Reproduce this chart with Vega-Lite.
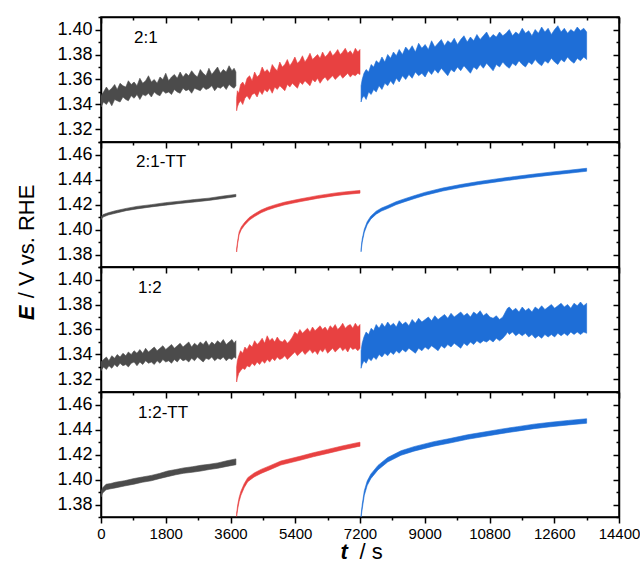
{
  "$schema": "https://vega.github.io/schema/vega-lite/v6.json",
  "padding": {"left": 14, "top": 7, "right": 0, "bottom": 5},
  "spacing": 0,
  "bounds": "flush",
  "config": {
    "view": {"stroke": "black", "strokeWidth": 1.5},
    "axis": {"domainColor": "black", "domainWidth": 1.5, "tickColor": "black", "tickWidth": 1.5, "labelColor": "black", "labelFont": "Liberation Sans", "titleFont": "Liberation Sans", "titleColor": "black", "grid": false, "labelOverlap": false, "labelFlush": false},
    "text": {"font": "Liberation Sans"}
  },
  "datasets": {
    "p1": [
      {"s":"a","t":0,"lo":1.338,"hi":1.347},{"s":"a","t":70,"lo":1.342,"hi":1.350},{"s":"a","t":150,"lo":1.340,"hi":1.354},{"s":"a","t":220,"lo":1.343,"hi":1.351},{"s":"a","t":300,"lo":1.339,"hi":1.353},{"s":"a","t":380,"lo":1.344,"hi":1.356},{"s":"a","t":450,"lo":1.343,"hi":1.352},{"s":"a","t":530,"lo":1.342,"hi":1.357},{"s":"a","t":610,"lo":1.346,"hi":1.355},{"s":"a","t":690,"lo":1.344,"hi":1.354},{"s":"a","t":760,"lo":1.343,"hi":1.359},{"s":"a","t":840,"lo":1.347,"hi":1.356},{"s":"a","t":920,"lo":1.345,"hi":1.358},{"s":"a","t":1000,"lo":1.348,"hi":1.355},{"s":"a","t":1080,"lo":1.344,"hi":1.361},{"s":"a","t":1160,"lo":1.348,"hi":1.357},{"s":"a","t":1240,"lo":1.347,"hi":1.359},{"s":"a","t":1320,"lo":1.349,"hi":1.363},{"s":"a","t":1400,"lo":1.346,"hi":1.358},{"s":"a","t":1480,"lo":1.350,"hi":1.360},{"s":"a","t":1560,"lo":1.348,"hi":1.357},{"s":"a","t":1640,"lo":1.347,"hi":1.362},{"s":"a","t":1720,"lo":1.351,"hi":1.360},{"s":"a","t":1800,"lo":1.349,"hi":1.365},{"s":"a","t":1880,"lo":1.350,"hi":1.359},{"s":"a","t":1960,"lo":1.348,"hi":1.362},{"s":"a","t":2040,"lo":1.352,"hi":1.364},{"s":"a","t":2120,"lo":1.350,"hi":1.361},{"s":"a","t":2200,"lo":1.349,"hi":1.366},{"s":"a","t":2280,"lo":1.353,"hi":1.362},{"s":"a","t":2360,"lo":1.351,"hi":1.365},{"s":"a","t":2440,"lo":1.352,"hi":1.363},{"s":"a","t":2520,"lo":1.349,"hi":1.367},{"s":"a","t":2600,"lo":1.353,"hi":1.364},{"s":"a","t":2680,"lo":1.352,"hi":1.362},{"s":"a","t":2760,"lo":1.351,"hi":1.368},{"s":"a","t":2840,"lo":1.354,"hi":1.365},{"s":"a","t":2920,"lo":1.352,"hi":1.363},{"s":"a","t":3000,"lo":1.353,"hi":1.369},{"s":"a","t":3080,"lo":1.355,"hi":1.364},{"s":"a","t":3160,"lo":1.351,"hi":1.367},{"s":"a","t":3240,"lo":1.354,"hi":1.370},{"s":"a","t":3320,"lo":1.353,"hi":1.365},{"s":"a","t":3400,"lo":1.355,"hi":1.368},{"s":"a","t":3480,"lo":1.352,"hi":1.366},{"s":"a","t":3560,"lo":1.356,"hi":1.371},{"s":"a","t":3640,"lo":1.354,"hi":1.367},{"s":"a","t":3700,"lo":1.353,"hi":1.369},{"s":"a","t":3750,"lo":1.355,"hi":1.366},
      {"s":"b","t":3770,"lo":1.335,"hi":1.345},{"s":"b","t":3790,"lo":1.338,"hi":1.351},{"s":"b","t":3830,"lo":1.341,"hi":1.349},{"s":"b","t":3880,"lo":1.343,"hi":1.356},{"s":"b","t":3940,"lo":1.340,"hi":1.358},{"s":"b","t":4000,"lo":1.345,"hi":1.355},{"s":"b","t":4060,"lo":1.347,"hi":1.361},{"s":"b","t":4130,"lo":1.344,"hi":1.363},{"s":"b","t":4200,"lo":1.348,"hi":1.359},{"s":"b","t":4270,"lo":1.349,"hi":1.366},{"s":"b","t":4340,"lo":1.346,"hi":1.362},{"s":"b","t":4410,"lo":1.351,"hi":1.364},{"s":"b","t":4480,"lo":1.348,"hi":1.370},{"s":"b","t":4550,"lo":1.352,"hi":1.366},{"s":"b","t":4620,"lo":1.350,"hi":1.368},{"s":"b","t":4690,"lo":1.353,"hi":1.365},{"s":"b","t":4760,"lo":1.349,"hi":1.372},{"s":"b","t":4830,"lo":1.354,"hi":1.369},{"s":"b","t":4900,"lo":1.352,"hi":1.367},{"s":"b","t":4970,"lo":1.355,"hi":1.374},{"s":"b","t":5040,"lo":1.353,"hi":1.370},{"s":"b","t":5110,"lo":1.351,"hi":1.372},{"s":"b","t":5180,"lo":1.356,"hi":1.376},{"s":"b","t":5250,"lo":1.354,"hi":1.371},{"s":"b","t":5320,"lo":1.357,"hi":1.374},{"s":"b","t":5390,"lo":1.355,"hi":1.378},{"s":"b","t":5460,"lo":1.353,"hi":1.373},{"s":"b","t":5530,"lo":1.358,"hi":1.375},{"s":"b","t":5600,"lo":1.356,"hi":1.379},{"s":"b","t":5670,"lo":1.359,"hi":1.374},{"s":"b","t":5740,"lo":1.357,"hi":1.377},{"s":"b","t":5810,"lo":1.355,"hi":1.381},{"s":"b","t":5880,"lo":1.360,"hi":1.376},{"s":"b","t":5950,"lo":1.358,"hi":1.378},{"s":"b","t":6020,"lo":1.361,"hi":1.380},{"s":"b","t":6090,"lo":1.357,"hi":1.377},{"s":"b","t":6160,"lo":1.360,"hi":1.382},{"s":"b","t":6230,"lo":1.362,"hi":1.378},{"s":"b","t":6300,"lo":1.359,"hi":1.380},{"s":"b","t":6370,"lo":1.361,"hi":1.383},{"s":"b","t":6440,"lo":1.363,"hi":1.379},{"s":"b","t":6510,"lo":1.360,"hi":1.381},{"s":"b","t":6580,"lo":1.362,"hi":1.384},{"s":"b","t":6650,"lo":1.364,"hi":1.380},{"s":"b","t":6720,"lo":1.361,"hi":1.382},{"s":"b","t":6790,"lo":1.363,"hi":1.385},{"s":"b","t":6860,"lo":1.365,"hi":1.381},{"s":"b","t":6930,"lo":1.362,"hi":1.383},{"s":"b","t":7000,"lo":1.364,"hi":1.380},{"s":"b","t":7070,"lo":1.363,"hi":1.385},{"s":"b","t":7140,"lo":1.365,"hi":1.382},{"s":"b","t":7200,"lo":1.364,"hi":1.384},
      {"s":"c","t":7230,"lo":1.342,"hi":1.355},{"s":"c","t":7260,"lo":1.345,"hi":1.360},{"s":"c","t":7310,"lo":1.347,"hi":1.365},{"s":"c","t":7370,"lo":1.344,"hi":1.368},{"s":"c","t":7440,"lo":1.350,"hi":1.366},{"s":"c","t":7510,"lo":1.348,"hi":1.372},{"s":"c","t":7580,"lo":1.352,"hi":1.370},{"s":"c","t":7650,"lo":1.350,"hi":1.375},{"s":"c","t":7730,"lo":1.355,"hi":1.373},{"s":"c","t":7810,"lo":1.352,"hi":1.378},{"s":"c","t":7890,"lo":1.357,"hi":1.374},{"s":"c","t":7970,"lo":1.355,"hi":1.380},{"s":"c","t":8050,"lo":1.359,"hi":1.377},{"s":"c","t":8130,"lo":1.356,"hi":1.382},{"s":"c","t":8210,"lo":1.361,"hi":1.379},{"s":"c","t":8290,"lo":1.358,"hi":1.384},{"s":"c","t":8380,"lo":1.363,"hi":1.380},{"s":"c","t":8470,"lo":1.360,"hi":1.386},{"s":"c","t":8560,"lo":1.364,"hi":1.383},{"s":"c","t":8650,"lo":1.361,"hi":1.387},{"s":"c","t":8740,"lo":1.366,"hi":1.382},{"s":"c","t":8830,"lo":1.363,"hi":1.389},{"s":"c","t":8920,"lo":1.365,"hi":1.385},{"s":"c","t":9010,"lo":1.362,"hi":1.388},{"s":"c","t":9100,"lo":1.367,"hi":1.384},{"s":"c","t":9190,"lo":1.364,"hi":1.391},{"s":"c","t":9280,"lo":1.368,"hi":1.386},{"s":"c","t":9370,"lo":1.365,"hi":1.389},{"s":"c","t":9460,"lo":1.369,"hi":1.392},{"s":"c","t":9550,"lo":1.366,"hi":1.387},{"s":"c","t":9640,"lo":1.363,"hi":1.391},{"s":"c","t":9730,"lo":1.368,"hi":1.389},{"s":"c","t":9820,"lo":1.366,"hi":1.393},{"s":"c","t":9910,"lo":1.370,"hi":1.388},{"s":"c","t":10000,"lo":1.367,"hi":1.392},{"s":"c","t":10090,"lo":1.371,"hi":1.395},{"s":"c","t":10180,"lo":1.368,"hi":1.390},{"s":"c","t":10270,"lo":1.365,"hi":1.394},{"s":"c","t":10360,"lo":1.370,"hi":1.391},{"s":"c","t":10450,"lo":1.368,"hi":1.396},{"s":"c","t":10540,"lo":1.372,"hi":1.392},{"s":"c","t":10630,"lo":1.369,"hi":1.395},{"s":"c","t":10720,"lo":1.373,"hi":1.398},{"s":"c","t":10810,"lo":1.370,"hi":1.393},{"s":"c","t":10900,"lo":1.367,"hi":1.396},{"s":"c","t":10990,"lo":1.372,"hi":1.394},{"s":"c","t":11080,"lo":1.370,"hi":1.398},{"s":"c","t":11170,"lo":1.374,"hi":1.395},{"s":"c","t":11260,"lo":1.371,"hi":1.397},{"s":"c","t":11350,"lo":1.369,"hi":1.400},{"s":"c","t":11440,"lo":1.373,"hi":1.395},{"s":"c","t":11530,"lo":1.371,"hi":1.398},{"s":"c","t":11620,"lo":1.375,"hi":1.396},{"s":"c","t":11710,"lo":1.372,"hi":1.401},{"s":"c","t":11800,"lo":1.370,"hi":1.397},{"s":"c","t":11890,"lo":1.374,"hi":1.399},{"s":"c","t":11980,"lo":1.372,"hi":1.395},{"s":"c","t":12070,"lo":1.376,"hi":1.400},{"s":"c","t":12160,"lo":1.373,"hi":1.397},{"s":"c","t":12250,"lo":1.371,"hi":1.402},{"s":"c","t":12340,"lo":1.375,"hi":1.398},{"s":"c","t":12430,"lo":1.373,"hi":1.401},{"s":"c","t":12520,"lo":1.377,"hi":1.396},{"s":"c","t":12610,"lo":1.374,"hi":1.400},{"s":"c","t":12700,"lo":1.372,"hi":1.403},{"s":"c","t":12790,"lo":1.376,"hi":1.398},{"s":"c","t":12880,"lo":1.374,"hi":1.401},{"s":"c","t":12970,"lo":1.378,"hi":1.397},{"s":"c","t":13060,"lo":1.375,"hi":1.400},{"s":"c","t":13150,"lo":1.373,"hi":1.398},{"s":"c","t":13240,"lo":1.377,"hi":1.402},{"s":"c","t":13330,"lo":1.375,"hi":1.399},{"s":"c","t":13420,"lo":1.378,"hi":1.401},{"s":"c","t":13500,"lo":1.376,"hi":1.398}
    ],
    "p2": [
      {"s":"a","t":0,"lo":1.4080,"hi":1.4100},{"s":"a","t":60,"lo":1.4100,"hi":1.4120},{"s":"a","t":200,"lo":1.4116,"hi":1.4134},{"s":"a","t":400,"lo":1.4130,"hi":1.4150},{"s":"a","t":700,"lo":1.4151,"hi":1.4169},{"s":"a","t":1000,"lo":1.4165,"hi":1.4185},{"s":"a","t":1400,"lo":1.4181,"hi":1.4199},{"s":"a","t":1800,"lo":1.4195,"hi":1.4215},{"s":"a","t":2200,"lo":1.4209,"hi":1.4227},{"s":"a","t":2600,"lo":1.4220,"hi":1.4240},{"s":"a","t":3000,"lo":1.4233,"hi":1.4251},{"s":"a","t":3400,"lo":1.4248,"hi":1.4268},{"s":"a","t":3750,"lo":1.4263,"hi":1.4281},
      {"s":"b","t":3770,"lo":1.3820,"hi":1.3845},{"s":"b","t":3800,"lo":1.3889,"hi":1.3911},{"s":"b","t":3840,"lo":1.3959,"hi":1.3981},{"s":"b","t":3900,"lo":1.3999,"hi":1.4021},{"s":"b","t":3990,"lo":1.4034,"hi":1.4056},{"s":"b","t":4120,"lo":1.4074,"hi":1.4096},{"s":"b","t":4260,"lo":1.4102,"hi":1.4124},{"s":"b","t":4450,"lo":1.4134,"hi":1.4156},{"s":"b","t":4630,"lo":1.4156,"hi":1.4178},{"s":"b","t":4850,"lo":1.4177,"hi":1.4199},{"s":"b","t":5090,"lo":1.4196,"hi":1.4218},{"s":"b","t":5320,"lo":1.4210,"hi":1.4232},{"s":"b","t":5560,"lo":1.4224,"hi":1.4246},{"s":"b","t":5800,"lo":1.4237,"hi":1.4259},{"s":"b","t":6020,"lo":1.4249,"hi":1.4271},{"s":"b","t":6250,"lo":1.4259,"hi":1.4281},{"s":"b","t":6480,"lo":1.4269,"hi":1.4291},{"s":"b","t":6700,"lo":1.4277,"hi":1.4299},{"s":"b","t":6950,"lo":1.4284,"hi":1.4306},{"s":"b","t":7200,"lo":1.4291,"hi":1.4313},
      {"s":"c","t":7230,"lo":1.3822,"hi":1.3846},{"s":"c","t":7260,"lo":1.3898,"hi":1.3922},{"s":"c","t":7320,"lo":1.3978,"hi":1.4002},{"s":"c","t":7400,"lo":1.4038,"hi":1.4062},{"s":"c","t":7500,"lo":1.4083,"hi":1.4107},{"s":"c","t":7650,"lo":1.4123,"hi":1.4147},{"s":"c","t":7800,"lo":1.4148,"hi":1.4172},{"s":"c","t":7970,"lo":1.4168,"hi":1.4192},{"s":"c","t":8200,"lo":1.4198,"hi":1.4222},{"s":"c","t":8450,"lo":1.4223,"hi":1.4247},{"s":"c","t":8700,"lo":1.4246,"hi":1.4270},{"s":"c","t":9000,"lo":1.4273,"hi":1.4297},{"s":"c","t":9500,"lo":1.4308,"hi":1.4332},{"s":"c","t":10000,"lo":1.4336,"hi":1.4360},{"s":"c","t":10500,"lo":1.4360,"hi":1.4384},{"s":"c","t":11000,"lo":1.4381,"hi":1.4405},{"s":"c","t":11500,"lo":1.4400,"hi":1.4424},{"s":"c","t":12000,"lo":1.4418,"hi":1.4442},{"s":"c","t":12500,"lo":1.4435,"hi":1.4459},{"s":"c","t":13000,"lo":1.4450,"hi":1.4474},{"s":"c","t":13500,"lo":1.4466,"hi":1.4490}
    ],
    "p3": [
      {"s":"a","t":0,"lo":1.327,"hi":1.334},{"s":"a","t":70,"lo":1.330,"hi":1.336},{"s":"a","t":150,"lo":1.328,"hi":1.338},{"s":"a","t":220,"lo":1.331,"hi":1.335},{"s":"a","t":300,"lo":1.329,"hi":1.339},{"s":"a","t":380,"lo":1.332,"hi":1.337},{"s":"a","t":450,"lo":1.330,"hi":1.340},{"s":"a","t":530,"lo":1.333,"hi":1.338},{"s":"a","t":610,"lo":1.331,"hi":1.341},{"s":"a","t":690,"lo":1.332,"hi":1.339},{"s":"a","t":760,"lo":1.330,"hi":1.342},{"s":"a","t":840,"lo":1.333,"hi":1.340},{"s":"a","t":920,"lo":1.334,"hi":1.343},{"s":"a","t":1000,"lo":1.331,"hi":1.341},{"s":"a","t":1080,"lo":1.334,"hi":1.344},{"s":"a","t":1160,"lo":1.332,"hi":1.341},{"s":"a","t":1240,"lo":1.335,"hi":1.345},{"s":"a","t":1320,"lo":1.333,"hi":1.342},{"s":"a","t":1400,"lo":1.334,"hi":1.344},{"s":"a","t":1480,"lo":1.332,"hi":1.346},{"s":"a","t":1560,"lo":1.335,"hi":1.343},{"s":"a","t":1640,"lo":1.333,"hi":1.345},{"s":"a","t":1720,"lo":1.336,"hi":1.347},{"s":"a","t":1800,"lo":1.334,"hi":1.344},{"s":"a","t":1880,"lo":1.335,"hi":1.346},{"s":"a","t":1960,"lo":1.333,"hi":1.348},{"s":"a","t":2040,"lo":1.336,"hi":1.345},{"s":"a","t":2120,"lo":1.334,"hi":1.347},{"s":"a","t":2200,"lo":1.337,"hi":1.349},{"s":"a","t":2280,"lo":1.335,"hi":1.346},{"s":"a","t":2360,"lo":1.336,"hi":1.348},{"s":"a","t":2440,"lo":1.334,"hi":1.350},{"s":"a","t":2520,"lo":1.337,"hi":1.346},{"s":"a","t":2600,"lo":1.335,"hi":1.349},{"s":"a","t":2680,"lo":1.338,"hi":1.347},{"s":"a","t":2760,"lo":1.336,"hi":1.350},{"s":"a","t":2840,"lo":1.334,"hi":1.348},{"s":"a","t":2920,"lo":1.337,"hi":1.351},{"s":"a","t":3000,"lo":1.336,"hi":1.347},{"s":"a","t":3080,"lo":1.338,"hi":1.350},{"s":"a","t":3160,"lo":1.335,"hi":1.348},{"s":"a","t":3240,"lo":1.337,"hi":1.351},{"s":"a","t":3320,"lo":1.336,"hi":1.349},{"s":"a","t":3400,"lo":1.338,"hi":1.352},{"s":"a","t":3480,"lo":1.335,"hi":1.348},{"s":"a","t":3560,"lo":1.337,"hi":1.350},{"s":"a","t":3640,"lo":1.336,"hi":1.352},{"s":"a","t":3700,"lo":1.338,"hi":1.349},{"s":"a","t":3750,"lo":1.337,"hi":1.351},
      {"s":"b","t":3770,"lo":1.318,"hi":1.330},{"s":"b","t":3790,"lo":1.321,"hi":1.335},{"s":"b","t":3830,"lo":1.325,"hi":1.339},{"s":"b","t":3880,"lo":1.327,"hi":1.343},{"s":"b","t":3940,"lo":1.329,"hi":1.341},{"s":"b","t":4000,"lo":1.328,"hi":1.346},{"s":"b","t":4060,"lo":1.331,"hi":1.344},{"s":"b","t":4130,"lo":1.330,"hi":1.348},{"s":"b","t":4200,"lo":1.333,"hi":1.346},{"s":"b","t":4270,"lo":1.331,"hi":1.351},{"s":"b","t":4340,"lo":1.334,"hi":1.348},{"s":"b","t":4410,"lo":1.332,"hi":1.350},{"s":"b","t":4480,"lo":1.335,"hi":1.353},{"s":"b","t":4550,"lo":1.333,"hi":1.349},{"s":"b","t":4620,"lo":1.336,"hi":1.355},{"s":"b","t":4690,"lo":1.334,"hi":1.351},{"s":"b","t":4760,"lo":1.337,"hi":1.353},{"s":"b","t":4830,"lo":1.335,"hi":1.350},{"s":"b","t":4900,"lo":1.338,"hi":1.354},{"s":"b","t":4970,"lo":1.336,"hi":1.351},{"s":"b","t":5040,"lo":1.337,"hi":1.350},{"s":"b","t":5110,"lo":1.339,"hi":1.352},{"s":"b","t":5180,"lo":1.336,"hi":1.349},{"s":"b","t":5250,"lo":1.338,"hi":1.351},{"s":"b","t":5320,"lo":1.340,"hi":1.354},{"s":"b","t":5390,"lo":1.342,"hi":1.358},{"s":"b","t":5460,"lo":1.339,"hi":1.356},{"s":"b","t":5530,"lo":1.341,"hi":1.360},{"s":"b","t":5600,"lo":1.343,"hi":1.357},{"s":"b","t":5670,"lo":1.340,"hi":1.359},{"s":"b","t":5740,"lo":1.342,"hi":1.361},{"s":"b","t":5810,"lo":1.344,"hi":1.358},{"s":"b","t":5880,"lo":1.341,"hi":1.362},{"s":"b","t":5950,"lo":1.343,"hi":1.359},{"s":"b","t":6020,"lo":1.340,"hi":1.361},{"s":"b","t":6090,"lo":1.344,"hi":1.363},{"s":"b","t":6160,"lo":1.342,"hi":1.360},{"s":"b","t":6230,"lo":1.345,"hi":1.362},{"s":"b","t":6300,"lo":1.341,"hi":1.359},{"s":"b","t":6370,"lo":1.343,"hi":1.363},{"s":"b","t":6440,"lo":1.345,"hi":1.361},{"s":"b","t":6510,"lo":1.342,"hi":1.364},{"s":"b","t":6580,"lo":1.344,"hi":1.360},{"s":"b","t":6650,"lo":1.346,"hi":1.362},{"s":"b","t":6720,"lo":1.343,"hi":1.365},{"s":"b","t":6790,"lo":1.345,"hi":1.361},{"s":"b","t":6860,"lo":1.342,"hi":1.363},{"s":"b","t":6930,"lo":1.346,"hi":1.364},{"s":"b","t":7000,"lo":1.344,"hi":1.361},{"s":"b","t":7070,"lo":1.345,"hi":1.365},{"s":"b","t":7140,"lo":1.343,"hi":1.362},{"s":"b","t":7200,"lo":1.345,"hi":1.364},
      {"s":"c","t":7230,"lo":1.329,"hi":1.343},{"s":"c","t":7260,"lo":1.332,"hi":1.349},{"s":"c","t":7310,"lo":1.335,"hi":1.354},{"s":"c","t":7370,"lo":1.333,"hi":1.358},{"s":"c","t":7440,"lo":1.337,"hi":1.356},{"s":"c","t":7510,"lo":1.335,"hi":1.361},{"s":"c","t":7580,"lo":1.338,"hi":1.359},{"s":"c","t":7650,"lo":1.336,"hi":1.364},{"s":"c","t":7730,"lo":1.340,"hi":1.361},{"s":"c","t":7810,"lo":1.338,"hi":1.365},{"s":"c","t":7890,"lo":1.341,"hi":1.362},{"s":"c","t":7970,"lo":1.339,"hi":1.366},{"s":"c","t":8050,"lo":1.342,"hi":1.363},{"s":"c","t":8130,"lo":1.340,"hi":1.365},{"s":"c","t":8210,"lo":1.343,"hi":1.362},{"s":"c","t":8290,"lo":1.341,"hi":1.367},{"s":"c","t":8380,"lo":1.344,"hi":1.364},{"s":"c","t":8470,"lo":1.342,"hi":1.366},{"s":"c","t":8560,"lo":1.345,"hi":1.363},{"s":"c","t":8650,"lo":1.343,"hi":1.368},{"s":"c","t":8740,"lo":1.341,"hi":1.365},{"s":"c","t":8830,"lo":1.345,"hi":1.369},{"s":"c","t":8920,"lo":1.343,"hi":1.366},{"s":"c","t":9010,"lo":1.346,"hi":1.368},{"s":"c","t":9100,"lo":1.344,"hi":1.370},{"s":"c","t":9190,"lo":1.347,"hi":1.367},{"s":"c","t":9280,"lo":1.345,"hi":1.371},{"s":"c","t":9370,"lo":1.343,"hi":1.368},{"s":"c","t":9460,"lo":1.347,"hi":1.370},{"s":"c","t":9550,"lo":1.345,"hi":1.372},{"s":"c","t":9640,"lo":1.348,"hi":1.369},{"s":"c","t":9730,"lo":1.346,"hi":1.373},{"s":"c","t":9820,"lo":1.349,"hi":1.370},{"s":"c","t":9910,"lo":1.347,"hi":1.372},{"s":"c","t":10000,"lo":1.345,"hi":1.374},{"s":"c","t":10090,"lo":1.349,"hi":1.371},{"s":"c","t":10180,"lo":1.347,"hi":1.373},{"s":"c","t":10270,"lo":1.350,"hi":1.370},{"s":"c","t":10360,"lo":1.348,"hi":1.374},{"s":"c","t":10450,"lo":1.351,"hi":1.372},{"s":"c","t":10540,"lo":1.349,"hi":1.375},{"s":"c","t":10630,"lo":1.351,"hi":1.371},{"s":"c","t":10720,"lo":1.350,"hi":1.373},{"s":"c","t":10810,"lo":1.352,"hi":1.370},{"s":"c","t":10900,"lo":1.350,"hi":1.369},{"s":"c","t":10990,"lo":1.353,"hi":1.371},{"s":"c","t":11080,"lo":1.351,"hi":1.368},{"s":"c","t":11170,"lo":1.353,"hi":1.370},{"s":"c","t":11260,"lo":1.356,"hi":1.375},{"s":"c","t":11300,"lo":1.358,"hi":1.377},{"s":"c","t":11350,"lo":1.356,"hi":1.378},{"s":"c","t":11440,"lo":1.358,"hi":1.375},{"s":"c","t":11530,"lo":1.355,"hi":1.377},{"s":"c","t":11620,"lo":1.357,"hi":1.374},{"s":"c","t":11710,"lo":1.355,"hi":1.378},{"s":"c","t":11800,"lo":1.357,"hi":1.375},{"s":"c","t":11890,"lo":1.354,"hi":1.377},{"s":"c","t":11980,"lo":1.356,"hi":1.374},{"s":"c","t":12070,"lo":1.353,"hi":1.378},{"s":"c","t":12160,"lo":1.355,"hi":1.376},{"s":"c","t":12250,"lo":1.353,"hi":1.379},{"s":"c","t":12340,"lo":1.356,"hi":1.376},{"s":"c","t":12430,"lo":1.354,"hi":1.378},{"s":"c","t":12520,"lo":1.356,"hi":1.380},{"s":"c","t":12610,"lo":1.354,"hi":1.377},{"s":"c","t":12700,"lo":1.357,"hi":1.379},{"s":"c","t":12790,"lo":1.355,"hi":1.381},{"s":"c","t":12880,"lo":1.357,"hi":1.378},{"s":"c","t":12970,"lo":1.355,"hi":1.380},{"s":"c","t":13060,"lo":1.358,"hi":1.377},{"s":"c","t":13150,"lo":1.356,"hi":1.381},{"s":"c","t":13240,"lo":1.358,"hi":1.379},{"s":"c","t":13330,"lo":1.356,"hi":1.382},{"s":"c","t":13420,"lo":1.358,"hi":1.379},{"s":"c","t":13500,"lo":1.357,"hi":1.381}
    ],
    "p4": [
      {"s":"a","t":0,"lo":1.3860,"hi":1.3900},{"s":"a","t":40,"lo":1.3890,"hi":1.3932},{"s":"a","t":140,"lo":1.3918,"hi":1.3962},{"s":"a","t":270,"lo":1.3926,"hi":1.3968},{"s":"a","t":400,"lo":1.3933,"hi":1.3978},{"s":"a","t":650,"lo":1.3948,"hi":1.3990},{"s":"a","t":920,"lo":1.3963,"hi":1.4008},{"s":"a","t":1150,"lo":1.3978,"hi":1.4020},{"s":"a","t":1400,"lo":1.3990,"hi":1.4033},{"s":"a","t":1620,"lo":1.4007,"hi":1.4048},{"s":"a","t":1850,"lo":1.4023,"hi":1.4068},{"s":"a","t":2080,"lo":1.4038,"hi":1.4080},{"s":"a","t":2300,"lo":1.4050,"hi":1.4093},{"s":"a","t":2540,"lo":1.4058,"hi":1.4102},{"s":"a","t":2780,"lo":1.4068,"hi":1.4114},{"s":"a","t":3010,"lo":1.4080,"hi":1.4122},{"s":"a","t":3250,"lo":1.4090,"hi":1.4133},{"s":"a","t":3500,"lo":1.4105,"hi":1.4150},{"s":"a","t":3750,"lo":1.4118,"hi":1.4165},
      {"s":"b","t":3770,"lo":1.3705,"hi":1.3730},{"s":"b","t":3800,"lo":1.3764,"hi":1.3796},{"s":"b","t":3840,"lo":1.3824,"hi":1.3856},{"s":"b","t":3890,"lo":1.3874,"hi":1.3906},{"s":"b","t":3980,"lo":1.3934,"hi":1.3966},{"s":"b","t":4080,"lo":1.3983,"hi":1.4015},{"s":"b","t":4250,"lo":1.4019,"hi":1.4051},{"s":"b","t":4450,"lo":1.4049,"hi":1.4081},{"s":"b","t":4700,"lo":1.4079,"hi":1.4111},{"s":"b","t":5000,"lo":1.4116,"hi":1.4148},{"s":"b","t":5280,"lo":1.4136,"hi":1.4168},{"s":"b","t":5560,"lo":1.4156,"hi":1.4188},{"s":"b","t":5900,"lo":1.4182,"hi":1.4214},{"s":"b","t":6300,"lo":1.4209,"hi":1.4241},{"s":"b","t":6700,"lo":1.4236,"hi":1.4268},{"s":"b","t":7130,"lo":1.4263,"hi":1.4295},{"s":"b","t":7200,"lo":1.4266,"hi":1.4298},
      {"s":"c","t":7230,"lo":1.3700,"hi":1.3715},{"s":"c","t":7260,"lo":1.3762,"hi":1.3798},{"s":"c","t":7320,"lo":1.3874,"hi":1.3910},{"s":"c","t":7400,"lo":1.3952,"hi":1.3988},{"s":"c","t":7500,"lo":1.4007,"hi":1.4043},{"s":"c","t":7700,"lo":1.4077,"hi":1.4113},{"s":"c","t":7970,"lo":1.4140,"hi":1.4176},{"s":"c","t":8340,"lo":1.4194,"hi":1.4230},{"s":"c","t":8700,"lo":1.4227,"hi":1.4263},{"s":"c","t":9250,"lo":1.4267,"hi":1.4303},{"s":"c","t":9700,"lo":1.4292,"hi":1.4328},{"s":"c","t":10190,"lo":1.4322,"hi":1.4358},{"s":"c","t":10650,"lo":1.4344,"hi":1.4380},{"s":"c","t":11120,"lo":1.4367,"hi":1.4403},{"s":"c","t":11580,"lo":1.4387,"hi":1.4423},{"s":"c","t":12040,"lo":1.4407,"hi":1.4443},{"s":"c","t":12500,"lo":1.4422,"hi":1.4458},{"s":"c","t":13000,"lo":1.4437,"hi":1.4473},{"s":"c","t":13500,"lo":1.4450,"hi":1.4486}
    ]
  },
  "vconcat": [
    {
      "width": 518, "height": 125,
      "data": {"name": "p1"},
      "layer": [
        {
          "mark": {"type": "area", "clip": true, "strokeWidth": 0.6},
          "encoding": {
            "x": {"field": "t", "type": "quantitative", "scale": {"domain": [0, 14400], "nice": false}, "axis": null},
            "y": {"field": "hi", "type": "quantitative", "scale": {"domain": [1.31, 1.41], "nice": false, "zero": false},
              "axis": {"orient": "left", "title": null, "values": [1.31,1.32,1.33,1.34,1.35,1.36,1.37,1.38,1.39,1.40,1.41], "labelExpr": "round(datum.value*100)%2==0 ? format(datum.value,'.2f') : ''", "tickSize": {"condition": {"test": "round(datum.value*100)%2==0", "value": 6}, "value": 3}, "labelFontSize": 18, "labelPadding": 3}},
            "y2": {"field": "lo"},
            "color": {"field": "s", "type": "nominal", "scale": {"domain": ["a","b","c"], "range": ["#4b4b4b","#e84141","#1e6ed7"]}, "legend": null},
            "stroke": {"field": "s", "type": "nominal", "scale": {"domain": ["a","b","c"], "range": ["#4b4b4b","#e84141","#1e6ed7"]}, "legend": null}
          }
        },
        {
          "data": {"values": [{"label": "2:1", "t": 917, "E": 1.389}]},
          "mark": {"type": "text", "align": "left", "baseline": "alphabetic", "fontSize": 17},
          "encoding": {
            "x": {"field": "t", "type": "quantitative", "scale": {"domain": [0, 14400], "nice": false},
              "axis": {"orient": "top", "title": null, "labels": false, "values": [0,900,1800,2700,3600,4500,5400,6300,7200,8100,9000,9900,10800,11700,12600,13500,14400], "tickSize": {"condition": {"test": "datum.value % 1800 == 0", "value": -6}, "value": -3}}},
            "y": {"field": "E", "type": "quantitative", "scale": {"domain": [1.31, 1.41], "nice": false, "zero": false},
              "axis": {"orient": "right", "title": null, "labels": false, "values": [1.31,1.32,1.33,1.34,1.35,1.36,1.37,1.38,1.39,1.40,1.41], "tickSize": {"condition": {"test": "round(datum.value*100)%2==0", "value": -6}, "value": -3}}},
            "text": {"field": "label"}
          }
        }
      ],
      "resolve": {"axis": {"x": "independent", "y": "independent"}}
    },
    {
      "width": 518, "height": 125,
      "data": {"name": "p2"},
      "layer": [
        {
          "mark": {"type": "area", "clip": true, "strokeWidth": 0.6},
          "encoding": {
            "x": {"field": "t", "type": "quantitative", "scale": {"domain": [0, 14400], "nice": false}, "axis": null},
            "y": {"field": "hi", "type": "quantitative", "scale": {"domain": [1.37, 1.47], "nice": false, "zero": false},
              "axis": {"orient": "left", "title": "/ V vs. RHE", "titleX": -68, "titleY": 99, "titleAngle": -90, "titleAlign": "center", "titleBaseline": "alphabetic", "titleFontSize": 22, "titleFontWeight": "normal", "values": [1.37,1.38,1.39,1.40,1.41,1.42,1.43,1.44,1.45,1.46,1.47], "labelExpr": "round(datum.value*100)%2==0 ? format(datum.value,'.2f') : ''", "tickSize": {"condition": {"test": "round(datum.value*100)%2==0", "value": 6}, "value": 3}, "labelFontSize": 18, "labelPadding": 3}},
            "y2": {"field": "lo"},
            "color": {"field": "s", "type": "nominal", "scale": {"domain": ["a","b","c"], "range": ["#4b4b4b","#e84141","#1e6ed7"]}, "legend": null},
            "stroke": {"field": "s", "type": "nominal", "scale": {"domain": ["a","b","c"], "range": ["#4b4b4b","#e84141","#1e6ed7"]}, "legend": null}
          }
        },
        {
          "data": {"values": [{"label": "2:1-TT", "t": 973, "E": 1.450}]},
          "mark": {"type": "text", "align": "left", "baseline": "alphabetic", "fontSize": 17},
          "encoding": {
            "x": {"field": "t", "type": "quantitative", "scale": {"domain": [0, 14400], "nice": false},
              "axis": {"orient": "top", "title": null, "labels": false, "values": [0,900,1800,2700,3600,4500,5400,6300,7200,8100,9000,9900,10800,11700,12600,13500,14400], "tickSize": {"condition": {"test": "datum.value % 1800 == 0", "value": -6}, "value": -3}}},
            "y": {"field": "E", "type": "quantitative", "scale": {"domain": [1.37, 1.47], "nice": false, "zero": false},
              "axis": {"orient": "right", "title": null, "labels": false, "values": [1.37,1.38,1.39,1.40,1.41,1.42,1.43,1.44,1.45,1.46,1.47], "tickSize": {"condition": {"test": "round(datum.value*100)%2==0", "value": -6}, "value": -3}}},
            "text": {"field": "label"}
          }
        }
      ],
      "resolve": {"axis": {"x": "independent", "y": "independent"}}
    },
    {
      "width": 518, "height": 125,
      "data": {"name": "p3"},
      "layer": [
        {
          "mark": {"type": "area", "clip": true, "strokeWidth": 0.6},
          "encoding": {
            "x": {"field": "t", "type": "quantitative", "scale": {"domain": [0, 14400], "nice": false}, "axis": null},
            "y": {"field": "hi", "type": "quantitative", "scale": {"domain": [1.31, 1.41], "nice": false, "zero": false},
              "axis": {"orient": "left", "title": "E", "titleX": -68, "titleY": 45.5, "titleAngle": -90, "titleAlign": "center", "titleBaseline": "alphabetic", "titleFontSize": 22, "titleFontWeight": "bold", "titleFontStyle": "italic", "values": [1.31,1.32,1.33,1.34,1.35,1.36,1.37,1.38,1.39,1.40,1.41], "labelExpr": "round(datum.value*100)%2==0 ? format(datum.value,'.2f') : ''", "tickSize": {"condition": {"test": "round(datum.value*100)%2==0", "value": 6}, "value": 3}, "labelFontSize": 18, "labelPadding": 3}},
            "y2": {"field": "lo"},
            "color": {"field": "s", "type": "nominal", "scale": {"domain": ["a","b","c"], "range": ["#4b4b4b","#e84141","#1e6ed7"]}, "legend": null},
            "stroke": {"field": "s", "type": "nominal", "scale": {"domain": ["a","b","c"], "range": ["#4b4b4b","#e84141","#1e6ed7"]}, "legend": null}
          }
        },
        {
          "data": {"values": [{"label": "1:2", "t": 1029, "E": 1.3894}]},
          "mark": {"type": "text", "align": "left", "baseline": "alphabetic", "fontSize": 17},
          "encoding": {
            "x": {"field": "t", "type": "quantitative", "scale": {"domain": [0, 14400], "nice": false},
              "axis": {"orient": "top", "title": null, "labels": false, "values": [0,900,1800,2700,3600,4500,5400,6300,7200,8100,9000,9900,10800,11700,12600,13500,14400], "tickSize": {"condition": {"test": "datum.value % 1800 == 0", "value": -6}, "value": -3}}},
            "y": {"field": "E", "type": "quantitative", "scale": {"domain": [1.31, 1.41], "nice": false, "zero": false},
              "axis": {"orient": "right", "title": null, "labels": false, "values": [1.31,1.32,1.33,1.34,1.35,1.36,1.37,1.38,1.39,1.40,1.41], "tickSize": {"condition": {"test": "round(datum.value*100)%2==0", "value": -6}, "value": -3}}},
            "text": {"field": "label"}
          }
        }
      ],
      "resolve": {"axis": {"x": "independent", "y": "independent"}}
    },
    {
      "width": 518, "height": 125,
      "data": {"name": "p4"},
      "layer": [
        {
          "mark": {"type": "area", "clip": true, "strokeWidth": 0.6},
          "encoding": {
            "x": {"field": "t", "type": "quantitative", "scale": {"domain": [0, 14400], "nice": false},
              "axis": {"orient": "bottom", "title": "/ s", "titleX": 258, "titleY": 41, "titleAlign": "left", "titleBaseline": "alphabetic", "titleFontSize": 22, "titleFontWeight": "normal", "values": [0,900,1800,2700,3600,4500,5400,6300,7200,8100,9000,9900,10800,11700,12600,13500,14400], "labelExpr": "datum.value % 1800 == 0 ? format(datum.value,'d') : ''", "tickSize": {"condition": {"test": "datum.value % 1800 == 0", "value": 6}, "value": 3}, "labelFontSize": 15, "labelPadding": 3}},
            "y": {"field": "hi", "type": "quantitative", "scale": {"domain": [1.37, 1.47], "nice": false, "zero": false},
              "axis": {"orient": "left", "title": null, "values": [1.37,1.38,1.39,1.40,1.41,1.42,1.43,1.44,1.45,1.46,1.47], "labelExpr": "round(datum.value*100)%2==0 ? format(datum.value,'.2f') : ''", "tickSize": {"condition": {"test": "round(datum.value*100)%2==0", "value": 6}, "value": 3}, "labelFontSize": 18, "labelPadding": 3}},
            "y2": {"field": "lo"},
            "color": {"field": "s", "type": "nominal", "scale": {"domain": ["a","b","c"], "range": ["#4b4b4b","#e84141","#1e6ed7"]}, "legend": null},
            "stroke": {"field": "s", "type": "nominal", "scale": {"domain": ["a","b","c"], "range": ["#4b4b4b","#e84141","#1e6ed7"]}, "legend": null}
          }
        },
        {
          "data": {"values": [{"label": "1:2-TT", "t": 1029, "E": 1.449}]},
          "mark": {"type": "text", "align": "left", "baseline": "alphabetic", "fontSize": 17},
          "encoding": {
            "x": {"field": "t", "type": "quantitative", "scale": {"domain": [0, 14400], "nice": false},
              "axis": {"orient": "top", "title": "t", "titleX": 239, "titleY": 166, "titleAlign": "left", "titleBaseline": "alphabetic", "titleFontSize": 22, "titleFontWeight": "bold", "titleFontStyle": "italic", "labels": false, "values": [0,900,1800,2700,3600,4500,5400,6300,7200,8100,9000,9900,10800,11700,12600,13500,14400], "tickSize": {"condition": {"test": "datum.value % 1800 == 0", "value": -6}, "value": -3}}},
            "y": {"field": "E", "type": "quantitative", "scale": {"domain": [1.37, 1.47], "nice": false, "zero": false},
              "axis": {"orient": "right", "title": null, "labels": false, "values": [1.37,1.38,1.39,1.40,1.41,1.42,1.43,1.44,1.45,1.46,1.47], "tickSize": {"condition": {"test": "round(datum.value*100)%2==0", "value": -6}, "value": -3}}},
            "text": {"field": "label"}
          }
        }
      ],
      "resolve": {"axis": {"x": "independent", "y": "independent"}}
    }
  ]
}
